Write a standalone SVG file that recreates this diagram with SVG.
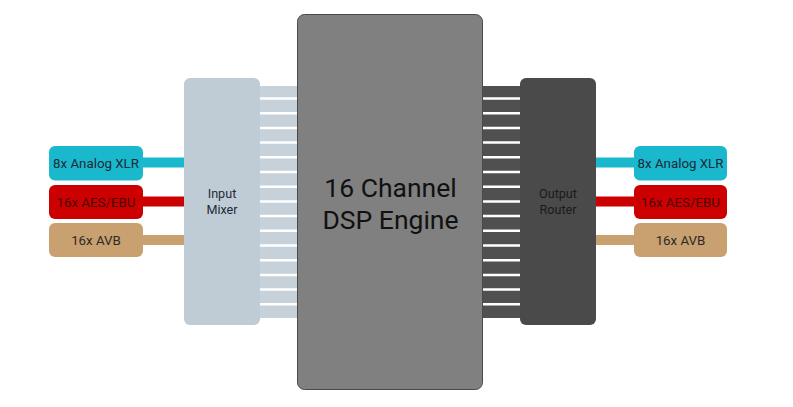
<svg xmlns="http://www.w3.org/2000/svg" width="793" height="407" viewBox="0 0 793 407">
<style>
text{font-family:Roboto,"Liberation Sans",sans-serif;text-anchor:middle}
.port{font-size:13.3px}
.lbl{font-size:12.6px}
.bl{stroke:#ffffff;stroke-width:2.5}
.conn{stroke-width:10;fill:none}
</style>
<rect width="793" height="407" fill="#ffffff"/>
<g id="connectors">
<line class="conn" x1="140" y1="162.5" x2="186" y2="162.5" stroke="#1ab8cc"/>
<line class="conn" x1="140" y1="201.5" x2="186" y2="201.5" stroke="#cc0000"/>
<line class="conn" x1="140" y1="240" x2="186" y2="240" stroke="#c9a070"/>
<line class="conn" x1="594" y1="162.5" x2="637" y2="162.5" stroke="#1ab8cc"/>
<line class="conn" x1="594" y1="201.5" x2="637" y2="201.5" stroke="#cc0000"/>
<line class="conn" x1="594" y1="240" x2="637" y2="240" stroke="#c9a070"/>
</g>
<g id="input-bus">
<rect x="258" y="86" width="42" height="232" fill="#c6d1d9"/>
<g class="bl">
<line x1="260" y1="98.5" x2="298" y2="98.5"/>
<line x1="260" y1="113.2" x2="298" y2="113.2"/>
<line x1="260" y1="127.9" x2="298" y2="127.9"/>
<line x1="260" y1="142.6" x2="298" y2="142.6"/>
<line x1="260" y1="157.3" x2="298" y2="157.3"/>
<line x1="260" y1="172" x2="298" y2="172"/>
<line x1="260" y1="186.7" x2="298" y2="186.7"/>
<line x1="260" y1="201.4" x2="298" y2="201.4"/>
<line x1="260" y1="216.1" x2="298" y2="216.1"/>
<line x1="260" y1="230.8" x2="298" y2="230.8"/>
<line x1="260" y1="245.5" x2="298" y2="245.5"/>
<line x1="260" y1="260.2" x2="298" y2="260.2"/>
<line x1="260" y1="274.9" x2="298" y2="274.9"/>
<line x1="260" y1="289.6" x2="298" y2="289.6"/>
<line x1="260" y1="304.3" x2="298" y2="304.3"/>
</g>
</g>
<g id="output-bus">
<rect x="481" y="86" width="42" height="232" fill="#505050"/>
<g class="bl">
<line x1="483" y1="98.5" x2="521" y2="98.5"/>
<line x1="483" y1="113.2" x2="521" y2="113.2"/>
<line x1="483" y1="127.9" x2="521" y2="127.9"/>
<line x1="483" y1="142.6" x2="521" y2="142.6"/>
<line x1="483" y1="157.3" x2="521" y2="157.3"/>
<line x1="483" y1="172" x2="521" y2="172"/>
<line x1="483" y1="186.7" x2="521" y2="186.7"/>
<line x1="483" y1="201.4" x2="521" y2="201.4"/>
<line x1="483" y1="216.1" x2="521" y2="216.1"/>
<line x1="483" y1="230.8" x2="521" y2="230.8"/>
<line x1="483" y1="245.5" x2="521" y2="245.5"/>
<line x1="483" y1="260.2" x2="521" y2="260.2"/>
<line x1="483" y1="274.9" x2="521" y2="274.9"/>
<line x1="483" y1="289.6" x2="521" y2="289.6"/>
<line x1="483" y1="304.3" x2="521" y2="304.3"/>
</g>
</g>
<g id="in-analog">
<rect x="49" y="146" width="94" height="34.5" rx="6" fill="#1ab8cc"/>
<text class="port" x="96" y="167.8" fill="#1a2a3a">8x Analog XLR</text>
</g>
<g id="in-aes">
<rect x="49" y="185" width="94" height="34" rx="6" fill="#cc0000"/>
<text class="port" x="96" y="206.8" fill="#4a0606">16x AES/EBU</text>
</g>
<g id="in-avb">
<rect x="49" y="223" width="94" height="34" rx="6" fill="#c9a070"/>
<text class="port" x="96" y="245.3" fill="#2a2a2a">16x AVB</text>
</g>
<g id="input-mixer">
<rect x="184" y="78" width="76" height="247" rx="6" fill="#c0ccd5"/>
<text class="lbl" x="222" y="198" fill="#1e2a36">Input</text>
<text class="lbl" x="222" y="214" fill="#1e2a36">Mixer</text>
</g>
<g id="dsp-engine">
<rect x="297.5" y="14.5" width="185" height="375" rx="7" fill="#808080" stroke="#4a4a4a" stroke-width="1"/>
<text x="390.5" y="196.5" font-size="26.5" fill="#111111">16 Channel</text>
<text x="390.5" y="229" font-size="26.5" fill="#111111">DSP Engine</text>
</g>
<g id="output-router">
<rect x="520" y="78" width="76" height="247" rx="6" fill="#4a4a4a"/>
<text class="lbl" x="558" y="198" fill="#1a1a1a">Output</text>
<text class="lbl" x="558" y="214" fill="#1a1a1a">Router</text>
</g>
<g id="out-analog">
<rect x="634" y="146" width="93" height="34.5" rx="6" fill="#1ab8cc"/>
<text class="port" x="680.5" y="167.8" fill="#1a2a3a">8x Analog XLR</text>
</g>
<g id="out-aes">
<rect x="634" y="185" width="93" height="34" rx="6" fill="#cc0000"/>
<text class="port" x="680.5" y="206.8" fill="#4a0606">16x AES/EBU</text>
</g>
<g id="out-avb">
<rect x="634" y="223" width="93" height="34" rx="6" fill="#c9a070"/>
<text class="port" x="680.5" y="245.3" fill="#2a2a2a">16x AVB</text>
</g>
</svg>
